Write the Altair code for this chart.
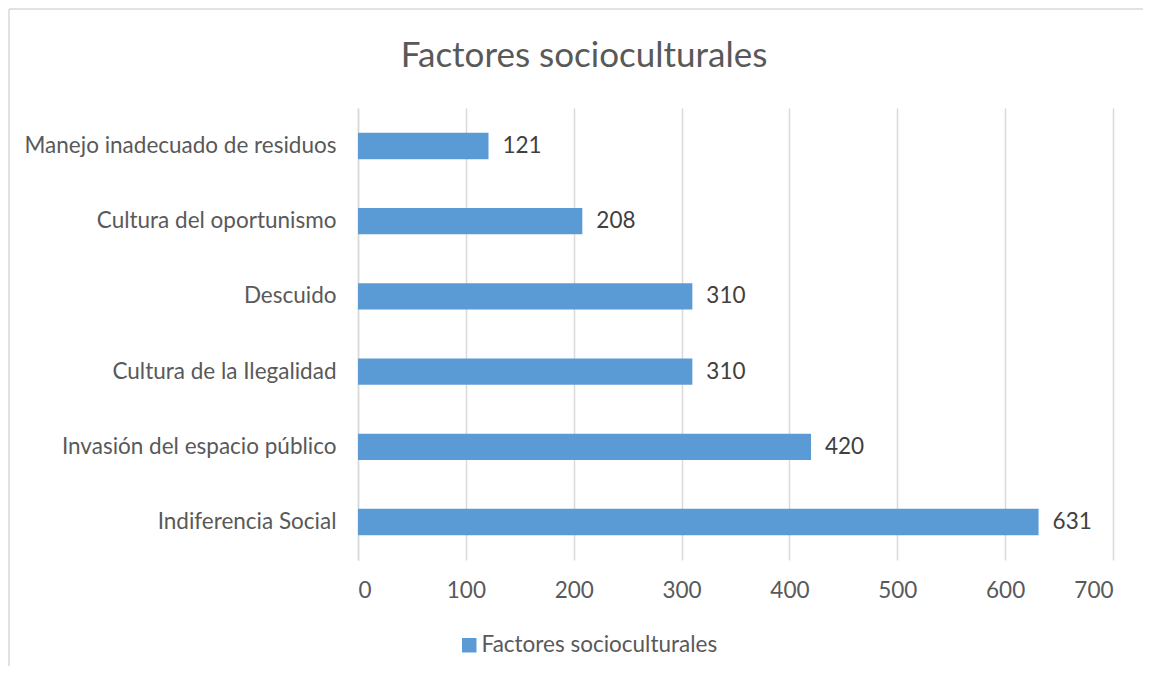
import altair as alt
import pandas as pd

categories = ["Manejo inadecuado de residuos", "Cultura del oportunismo", "Descuido",
              "Cultura de la Ilegalidad", "Invasión del espacio público", "Indiferencia Social"]
values = [121, 208, 310, 310, 420, 631]
series_name = "Factores socioculturales"
chart_title = "Factores socioculturales"
x_ticks = [0, 100, 200, 300, 400, 500, 600, 700]

df = pd.DataFrame({"cat": categories, "val": values, "serie": [series_name] * len(values)})

FONT = "Lato"
GRAY = "#595959"
FS = 22.5

base = alt.Chart(df)
one = alt.datum.cat == categories[0]

border_top = base.mark_rule(stroke="#d9d9d9", strokeWidth=1.5).encode(
    x=alt.value(-349), x2=alt.value(787), y=alt.value(-99)
).transform_filter(one)
border_left = base.mark_rule(stroke="#d9d9d9", strokeWidth=1.5).encode(
    x=alt.value(-349), y=alt.value(-99), y2=alt.value(600)
).transform_filter(one)

title = base.mark_text(font=FONT, fontSize=35, color=GRAY, align="center", baseline="middle").encode(
    x=alt.value(226), y=alt.value(-52), text=alt.value(chart_title)
).transform_filter(one)

bars = base.mark_bar(color="#5B9BD5").encode(
    y=alt.Y("cat:N", sort=categories, title=None,
            scale=alt.Scale(paddingInner=0.65, paddingOuter=0.33),
            axis=alt.Axis(labelFont=FONT, labelFontSize=FS, labelColor=GRAY, labelPadding=22,
                          ticks=False, domainColor="#d9d9d9", domainWidth=1.5, labelLimit=400)),
    x=alt.X("val:Q", title=None,
            scale=alt.Scale(domain=[0, 700], nice=False),
            axis=alt.Axis(values=x_ticks, labelFont=FONT, labelFontSize=FS, labelColor=GRAY,
                          labelPadding=19, ticks=False, domain=False, grid=True,
                          gridColor="#d9d9d9", gridWidth=1.5)),
    color=alt.Color("serie:N", scale=alt.Scale(range=["#5B9BD5"]), title=None,
                    legend=alt.Legend(orient="none", legendX=100, legendY=526, symbolType="square",
                                      symbolSize=210, symbolStrokeWidth=0, labelFont=FONT,
                                      labelFontSize=FS, labelColor=GRAY, labelLimit=400,
                                      labelOffset=1)),
)

labels = base.mark_text(align="left", dx=14, font=FONT, fontSize=FS, color="#404040").encode(
    y=alt.Y("cat:N", sort=categories),
    x="val:Q",
    text="val:Q",
)

chart = alt.layer(border_top, border_left, title, bars, labels).properties(
    width=755, height=452,
    padding={"left": 350, "top": 100, "right": 30, "bottom": 106},
    autosize=alt.AutoSizeParams(type="none"),
).configure_view(stroke=None)

chart.save("out.html", embed_options={"renderer": "svg", "actions": False})
